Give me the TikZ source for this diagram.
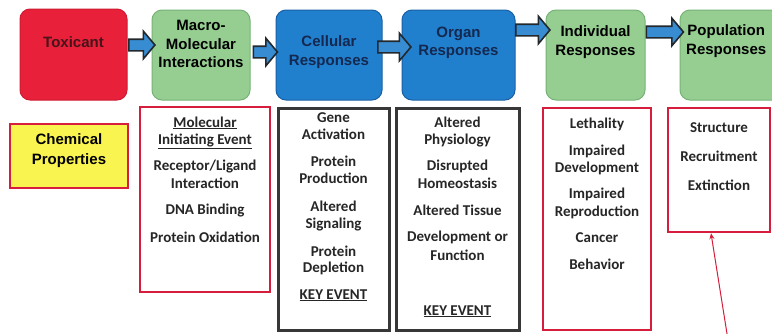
\documentclass[tikz,border=0pt]{standalone}
\usepackage{fontspec}
\setmainfont{Liberation Sans}
\newfontfamily\calibfont{Carlito}
\usetikzlibrary{shapes.arrows,arrows.meta}
\definecolor{toxred}{RGB}{232,32,58}
\definecolor{toxedge}{RGB}{205,28,50}
\definecolor{mgreen}{RGB}{150,206,146}
\definecolor{gedge}{RGB}{118,178,118}
\definecolor{cblue}{RGB}{33,128,205}
\definecolor{bedge}{RGB}{25,95,165}
\definecolor{arblue}{RGB}{55,140,210}
\definecolor{ardark}{RGB}{35,40,45}
\definecolor{yel}{RGB}{250,244,80}
\definecolor{bred}{RGB}{214,30,60}
\definecolor{bgray}{RGB}{55,55,55}
\definecolor{navy}{RGB}{20,40,80}
\definecolor{toxtext}{RGB}{70,20,25}
\begin{document}
\begin{tikzpicture}[x=1pt,y=-1pt,
  topbox/.style={rounded corners=10pt, line width=1pt, inner sep=0pt},
  toptext/.style={font=\bfseries\fontsize{15}{18.5}\selectfont, align=center, inner sep=0pt},
  sarrow/.style={single arrow, draw=ardark, fill=arblue, line width=1.6pt,
     inner xsep=0pt, inner ysep=5pt, minimum width=26pt, single arrow head extend=8pt,
     single arrow tip angle=100, single arrow head indent=0pt},
  lowbox/.style={line width=2.4pt, inner sep=0pt},
  bt/.style={font=\calibfont\bfseries\fontsize{15}{17}\selectfont, text=black!85, anchor=base, inner sep=0pt},
]
\clip (0,0) rectangle (772,333);
\useasboundingbox (0,0) rectangle (772,333);
\fill[white] (0,0) rectangle (772,333);

% top boxes
\node[topbox, fill=toxred, draw=toxedge, minimum width=107, minimum height=91] (tox) at (73.5,54.5) {};
\node[topbox, fill=mgreen, draw=gedge, minimum width=98, minimum height=90] (mac) at (201,55) {};
\node[topbox, fill=cblue, draw=bedge, minimum width=106, minimum height=90] (cel) at (329,55) {};
\node[topbox, fill=cblue, draw=bedge, minimum width=113, minimum height=90] (org) at (458.5,55) {};
\node[topbox, fill=mgreen, draw=gedge, minimum width=99, minimum height=90] (ind) at (595.5,55) {};
\node[topbox, fill=mgreen, draw=gedge, minimum width=105, minimum height=90] (pop) at (732.5,55) {};

\node[toptext, text=toxtext] (toxt) at (73.5,42) {Toxicant};
\node[toptext] (mact) at (201,44) {Macro-\\Molecular\\Interactions};
\node[toptext, text=navy] (celt) at (329,52) {Cellular\\Responses};
\node[toptext, text=navy] (orgt) at (458.5,43) {Organ\\Responses};
\node[toptext] (indt) at (595.5,42) {Individual\\Responses};
\node[toptext, anchor=west] (popt) at (686,41) {Population\\Responses};

% block arrows
\coordinate (y1) at (0,45);
\coordinate (y2) at (0,52);
\coordinate (y3) at (0,47);
\coordinate (y4) at (0,30);
\coordinate (y5) at (0,32);
\path (tox.east |- y1) -- (mac.west |- y1) node[midway, sarrow, minimum height=26] (a1) {};
\path (mac.east |- y2) -- (cel.west |- y2) node[midway, sarrow, minimum height=24] (a2) {};
\path (cel.east |- y3) -- (org.west |- y3) node[midway, sarrow, minimum height=33] (a3) {};
\path (org.east |- y4) -- (ind.west |- y4) node[midway, sarrow, minimum height=34] (a4) {};
\path (ind.east |- y5) -- (pop.west |- y5) node[midway, sarrow, minimum height=37] (a5) {};

% lower boxes
\node[lowbox, draw=bred, fill=yel, minimum width=118, minimum height=64] (chem) at (69,156) {};
\node[font=\bfseries\fontsize{15}{20}\selectfont, align=center, inner sep=0pt] (chemt) at (69,151) {Chemical\\Properties};
\node[lowbox, draw=bred, minimum width=130, minimum height=185] (mie) at (205,199.5) {};
\node[lowbox, draw=bgray, line width=3pt, minimum width=111, minimum height=222] (celb) at (333.5,219) {};
\node[lowbox, draw=bgray, line width=3pt, minimum width=123, minimum height=222] (orgb) at (457.5,219) {};
\node[lowbox, draw=bred, minimum width=108, minimum height=222] (indb) at (597,219) {};
\node[lowbox, draw=bred, minimum width=102, minimum height=124] (popb) at (719,170) {};

% MIE texts
\node[bt] (m1) at (205,127) {\underline{Molecular}};
\node[bt] (m2) at (205,144) {\underline{Initiating Event}};
\node[bt] (m3) at (205,170) {Receptor/Ligand};
\node[bt] (m4) at (205,188) {Interaction};
\node[bt] (m5) at (205,214) {DNA Binding};
\node[bt] (m6) at (205,242) {Protein Oxidation};

% cellular texts
\node[bt] (c1) at (333.5,122) {Gene};
\node[bt] (c2) at (333.5,139) {Activation};
\node[bt] (c3) at (333.5,166) {Protein};
\node[bt] (c4) at (333.5,183) {Production};
\node[bt] (c5) at (333.5,211) {Altered};
\node[bt] (c6) at (333.5,228) {Signaling};
\node[bt] (c7) at (333.5,256) {Protein};
\node[bt] (c8) at (333.5,272) {Depletion};
\node[bt] (c9) at (333.5,299) {\underline{KEY EVENT}};

% organ texts
\node[bt] (o1) at (457.5,127) {Altered};
\node[bt] (o2) at (457.5,144) {Physiology};
\node[bt] (o3) at (457.5,170) {Disrupted};
\node[bt] (o4) at (457.5,188) {Homeostasis};
\node[bt] (o5) at (457.5,215) {Altered Tissue};
\node[bt] (o6) at (457.5,241) {Development or};
\node[bt] (o7) at (457.5,260) {Function};
\node[bt] (o8) at (457.5,315) {\underline{KEY EVENT}};

% individual texts
\node[bt] (i1) at (597,128) {Lethality};
\node[bt] (i2) at (597,155) {Impaired};
\node[bt] (i3) at (597,172) {Development};
\node[bt] (i4) at (597,198) {Impaired};
\node[bt] (i5) at (597,216) {Reproduction};
\node[bt] (i6) at (597,242) {Cancer};
\node[bt] (i7) at (597,269) {Behavior};

% population texts
\node[bt] (p1) at (719,132) {Structure};
\node[bt] (p2) at (719,161) {Recruitment};
\node[bt] (p3) at (719,190) {Extinction};

% red pointer line
\coordinate (x711) at (711,0);
\coordinate (lnend) at (728,340);
\draw[bred, line width=1pt, -{Stealth[length=6pt,width=5pt]}] (lnend) -- (popb.south -| x711);
\end{tikzpicture}
\end{document}
